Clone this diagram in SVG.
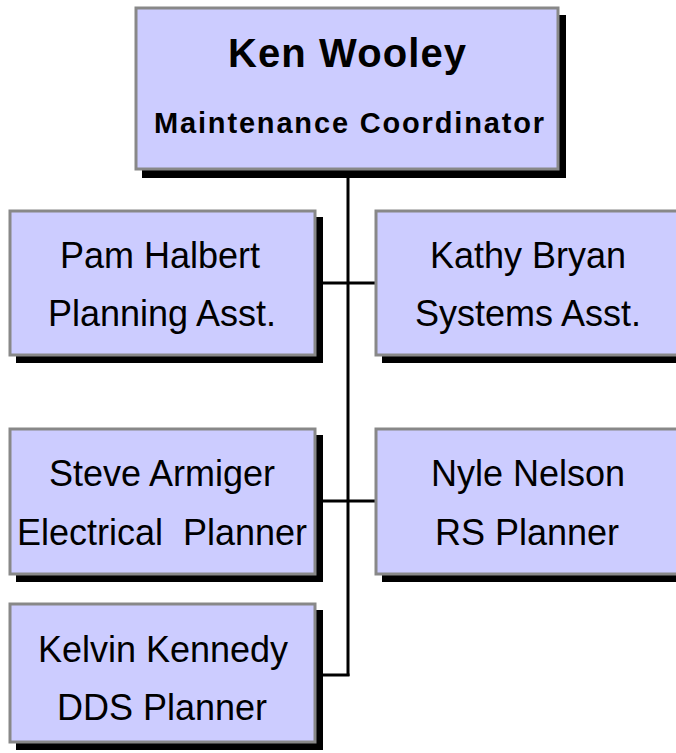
<svg xmlns="http://www.w3.org/2000/svg" width="676" height="753" viewBox="0 0 676 753">
  <style>
    .shadow { fill: #000000; }
    .box { fill: #ccccff; stroke: #888888; stroke-width: 3; }
    .link { fill: none; stroke: #000000; stroke-width: 3; }
    text { font-family: "Comic Sans MS", "Liberation Sans", Arial, sans-serif; fill: #000000; text-anchor: middle; }
    .name { font-size: 36px; }
    .head { font-weight: bold; }
  </style>
  <rect width="676" height="753" fill="#ffffff"/>

  <!-- connectors -->
  <g id="connectors">
    <path class="link" d="M348,170 V676"/>
    <path class="link" d="M316,283 H376"/>
    <path class="link" d="M316,501 H376"/>
    <path class="link" d="M316,675 H349.5"/>
  </g>

  <!-- coordinator -->
  <g id="ken-wooley">
    <rect class="shadow" x="142" y="15" width="424" height="163"/>
    <rect class="box" x="136" y="8" width="422" height="161"/>
    <text class="head" x="347" y="67" font-size="40" textLength="238">Ken Wooley</text>
    <text class="head" x="349" y="133" font-size="29" textLength="390">Maintenance Coordinator</text>
  </g>

  <g id="pam-halbert">
    <rect class="shadow" x="16" y="217" width="307" height="146"/>
    <rect class="box" x="10" y="211" width="305" height="144"/>
    <text class="name" x="160" y="268">Pam Halbert</text>
    <text class="name" x="162" y="326">Planning Asst.</text>
  </g>

  <g id="kathy-bryan">
    <rect class="shadow" x="382" y="217" width="307" height="146"/>
    <rect class="box" x="376" y="211" width="305" height="144"/>
    <text class="name" x="528" y="268">Kathy Bryan</text>
    <text class="name" x="528" y="326">Systems Asst.</text>
  </g>

  <g id="steve-armiger">
    <rect class="shadow" x="16" y="435" width="307" height="147"/>
    <rect class="box" x="10" y="429" width="305" height="145"/>
    <text class="name" x="162" y="486">Steve Armiger</text>
    <text class="name" x="162" y="545" style="white-space:pre">Electrical  Planner</text>
  </g>

  <g id="nyle-nelson">
    <rect class="shadow" x="382" y="435" width="307" height="147"/>
    <rect class="box" x="376" y="429" width="305" height="145"/>
    <text class="name" x="528" y="486">Nyle Nelson</text>
    <text class="name" x="527" y="545">RS Planner</text>
  </g>

  <g id="kelvin-kennedy">
    <rect class="shadow" x="16" y="610" width="307" height="140"/>
    <rect class="box" x="10" y="604" width="305" height="138"/>
    <text class="name" x="163" y="662">Kelvin Kennedy</text>
    <text class="name" x="162" y="720">DDS Planner</text>
  </g>
</svg>
